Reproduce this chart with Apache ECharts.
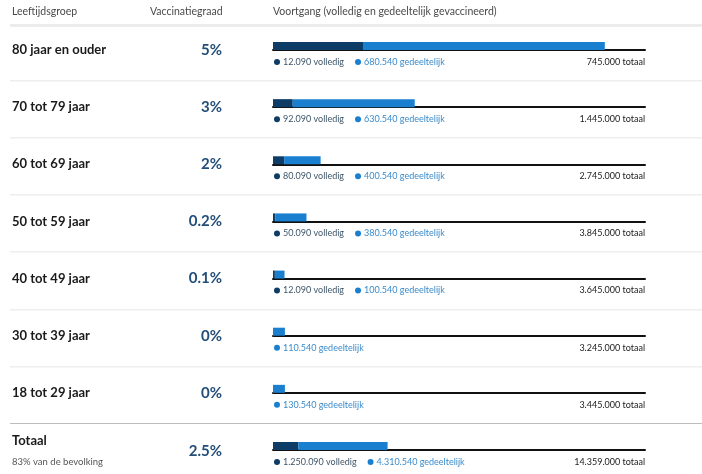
<!DOCTYPE html>
<html>
<head>
<meta charset="utf-8">
<script src="https://cdn.jsdelivr.net/npm/echarts@6/dist/echarts.min.js"></script>
<style>
  html, body { margin: 0; padding: 0; background: #fff; }
  #chart { width: 702px; height: 474px; }
</style>
</head>
<body>
<div id="chart"></div>
<script>
  // leeftijdsgroepen en cijfers
  const groepen = ['80 jaar en ouder', '70 tot 79 jaar', '60 tot 69 jaar', '50 tot 59 jaar',
    '40 tot 49 jaar', '30 tot 39 jaar', '18 tot 29 jaar', 'Totaal'];
  const graad = [5, 3, 2, 0.2, 0.1, 0, 0, 2.5];
  const volledig = [12090, 92090, 80090, 50090, 12090, null, null, 1250090];
  const gedeeltelijk = [680540, 630540, 400540, 380540, 100540, 110540, 130540, 4310540];
  const totaal = [745000, 1445000, 2745000, 3845000, 3645000, 3245000, 3445000, 14359000];
  const balkVolledig = [24.2, 5.3, 3.0, 0.6, 0.5, 0, 0, 6.8];
  const balkGedeeltelijk = [65.0, 32.8, 9.8, 8.4, 2.6, 3.2, 3.2, 24.0];

  const DONKER = '#0d3c66';
  const LICHT = '#1a7fcf';
  const FONT = 'Lato, "Open Sans", sans-serif';
  const rowH = 57.14;
  const barTop = 42;

  function nl(n) {
    return String(n).replace(/\B(?=(\d{3})+(?!\d))/g, '.');
  }

  const grids = [], xAxes = [], yAxes = [], series = [], graphic = [];

  // koppen
  const kop = (x, t) => ({
    type: 'text', x: x, y: 12,
    style: { text: t, font: '10.5px ' + FONT, fill: '#4a4a4a', textVerticalAlign: 'middle', verticalAlign: 'middle' }
  });
  graphic.push(kop(12, 'Leeftijdsgroep'), kop(150, 'Vaccinatiegraad'),
    kop(273, 'Voortgang (volledig en gedeeltelijk gevaccineerd)'));
  graphic.push({ type: 'rect', shape: { x: 10, y: 24, width: 692, height: 3 }, style: { fill: '#ececec' } });

  groepen.forEach((g, i) => {
    const top = barTop + rowH * i;
    grids.push({ left: 273, width: 372, top: top, height: 8 });
    xAxes.push({
      gridIndex: i, type: 'value', min: 0, max: 100,
      axisLine: { show: true, lineStyle: { color: '#111', width: 2 } },
      axisTick: { show: false }, axisLabel: { show: false }, splitLine: { show: false }
    });
    yAxes.push({ gridIndex: i, type: 'category', data: [g], show: false });
    series.push({
      type: 'bar', name: 'volledig', xAxisIndex: i, yAxisIndex: i, stack: 'r' + i,
      barWidth: 8, data: [balkVolledig[i]], itemStyle: { color: DONKER }, silent: true
    }, {
      type: 'bar', name: 'gedeeltelijk', xAxisIndex: i, yAxisIndex: i, stack: 'r' + i,
      barWidth: 8, data: [balkGedeeltelijk[i]], itemStyle: { color: LICHT }, silent: true
    });

    const isTot = i === groepen.length - 1;
    const labelY = isTot ? top - 1 : top + 8;
    const legY = top + 20;

    graphic.push({
      type: 'text', x: 12, y: labelY,
      style: { text: g, font: 'bold 13px ' + FONT, fill: '#1a1a1a', textVerticalAlign: 'middle', verticalAlign: 'middle' }
    });
    if (isTot) {
      graphic.push({
        type: 'text', x: 12, y: legY,
        style: { text: '83% van de bevolking', font: '9.5px ' + FONT, fill: '#555', textVerticalAlign: 'middle', verticalAlign: 'middle' }
      });
    }
    graphic.push({
      type: 'text', x: 222, y: isTot ? top + 9 : labelY,
      style: {
        text: graad[i] + '%', font: 'bold 15px ' + FONT, fill: '#234e78',
        textAlign: 'right', align: 'right', textVerticalAlign: 'middle', verticalAlign: 'middle'
      }
    });

    // legenda onder de balk
    const dot = c => ({ width: 6, height: 6, borderRadius: 3, backgroundColor: c });
    let leg = '';
    if (volledig[i] != null) {
      leg += '{dd|}{sp|}{vt|' + nl(volledig[i]) + ' volledig}{gap|}{ld|}{sp|}';
    } else {
      leg += '{ld|}{sp|}';
    }
    leg += '{lt|' + nl(gedeeltelijk[i]) + ' gedeeltelijk}';
    graphic.push({
      type: 'text', x: 274, y: legY,
      style: {
        text: leg, textVerticalAlign: 'middle', verticalAlign: 'middle',
        rich: {
          dd: dot(DONKER),
          ld: dot(LICHT),
          sp: { width: 3 },
          gap: { width: 11 },
          vt: { fontSize: 9, fontFamily: FONT, fill: '#3e5568', color: '#3e5568' },
          lt: { fontSize: 9, fontFamily: FONT, fill: '#3a8bcb', color: '#3a8bcb' }
        }
      }
    });
    graphic.push({
      type: 'text', x: 645, y: legY,
      style: {
        text: nl(totaal[i]) + ' totaal', font: '9px ' + FONT, fill: '#222',
        textAlign: 'right', align: 'right', textVerticalAlign: 'middle', verticalAlign: 'middle'
      }
    });

    // scheidingslijn onder de rij
    if (!isTot) {
      const sy = Math.round(80 + rowH * i);
      graphic.push({
        type: 'rect', shape: { x: 10, y: sy, width: 692, height: i === groepen.length - 2 ? 1 : 1.5 },
        style: { fill: i === groepen.length - 2 ? '#bdbdbd' : '#eeeeee' }
      });
    }
  });

  const chart = echarts.init(document.getElementById('chart'));
  chart.setOption({
    animation: false,
    grid: grids,
    xAxis: xAxes,
    yAxis: yAxes,
    series: series,
    graphic: graphic
  });
</script>
</body>
</html>
